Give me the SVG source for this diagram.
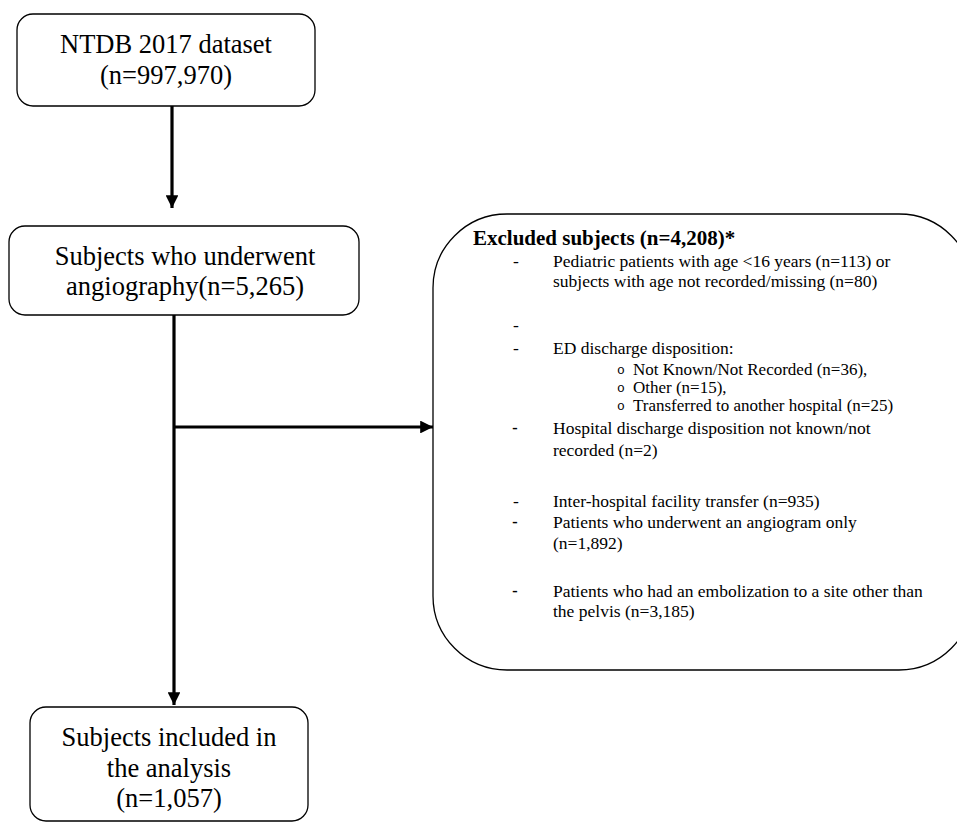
<svg xmlns="http://www.w3.org/2000/svg" width="957" height="823" viewBox="0 0 957 823">
<style>
.box{fill:#fff;stroke:#000;stroke-width:1.3}
.big{font-family:"Liberation Serif","Times New Roman",serif;font-size:26.5px;fill:#000;text-anchor:middle}
.it{font-family:"Liberation Serif","Times New Roman",serif;font-size:17.5px;fill:#000}
.sub{font-family:"Liberation Serif","Times New Roman",serif;font-size:17px;fill:#000}
.ttl{font-family:"Liberation Serif","Times New Roman",serif;font-size:21px;font-weight:bold;fill:#000}
.dsh{font-family:"Liberation Sans",Arial,sans-serif;font-size:17.5px;fill:#000}
.bul{font-family:"Liberation Mono","Courier New",monospace;font-size:13px;fill:#000}
.ln{stroke:#000;stroke-width:3.2;fill:none}
</style>
<defs>
<marker id="ah" viewBox="0 0 10 10" refX="10" refY="5" markerWidth="4" markerHeight="4" orient="auto" markerUnits="strokeWidth">
<path d="M0,0 L10,5 L0,10 z" fill="#000"/>
</marker>
</defs>
<rect width="957" height="823" fill="#fff"/>
<g id="connectors">
<line class="ln" x1="172" y1="106" x2="172" y2="208" marker-end="url(#ah)"/>
<line class="ln" x1="174" y1="315" x2="174" y2="705" marker-end="url(#ah)"/>
<line class="ln" x1="175" y1="427" x2="433" y2="427" marker-end="url(#ah)"/>
</g>
<g id="n1">
<rect class="box" x="17" y="14" width="298" height="92" rx="16"/>
<text class="big" x="166" y="53">NTDB 2017 dataset</text>
<text class="big" x="166" y="84">(n=997,970)</text>
</g>
<g id="n2">
<rect class="box" x="9" y="226" width="350" height="89" rx="16"/>
<text class="big" x="185" y="265">Subjects who underwent</text>
<text class="big" x="185" y="295">angiography(n=5,265)</text>
</g>
<g id="n4">
<rect class="box" x="30" y="707" width="278" height="114" rx="16"/>
<text class="big" x="169" y="746">Subjects included in</text>
<text class="big" x="169" y="777">the analysis</text>
<text class="big" x="169" y="807">(n=1,057)</text>
</g>
<g id="n3">
<rect class="box" x="433" y="214" width="540" height="456" rx="74"/>
<text class="ttl" x="473" y="245">Excluded subjects (n=4,208)*</text>
<text class="it" x="513" y="267">-</text>
<text class="it" x="553" y="267">Pediatric patients with age &lt;16 years (n=113) or</text>
<text class="it" x="553" y="287">subjects with age not recorded/missing (n=80)</text>
<text class="it" x="513" y="331">-</text>
<text class="it" x="513" y="354">-</text>
<text class="it" x="553" y="354">ED discharge disposition:</text>
<text class="bul" x="617" y="374">o</text>
<text class="sub" x="633" y="375">Not Known/Not Recorded (n=36),</text>
<text class="bul" x="617" y="392">o</text>
<text class="sub" x="633" y="393">Other (n=15),</text>
<text class="bul" x="617" y="410">o</text>
<text class="sub" x="633" y="411">Transferred to another hospital (n=25)</text>
<text class="dsh" x="512" y="434">-</text>
<text class="it" x="553" y="434">Hospital discharge disposition not known/not</text>
<text class="it" x="553" y="456">recorded (n=2)</text>
<text class="it" x="513" y="507">-</text>
<text class="it" x="553" y="507">Inter-hospital facility transfer (n=935)</text>
<text class="dsh" x="512" y="528">-</text>
<text class="it" x="553" y="528">Patients who underwent an angiogram only</text>
<text class="it" x="553" y="549">(n=1,892)</text>
<text class="dsh" x="512" y="597">-</text>
<text class="it" x="553" y="597">Patients who had an embolization to a site other than</text>
<text class="it" x="553" y="617">the pelvis (n=3,185)</text>
</g>
</svg>
